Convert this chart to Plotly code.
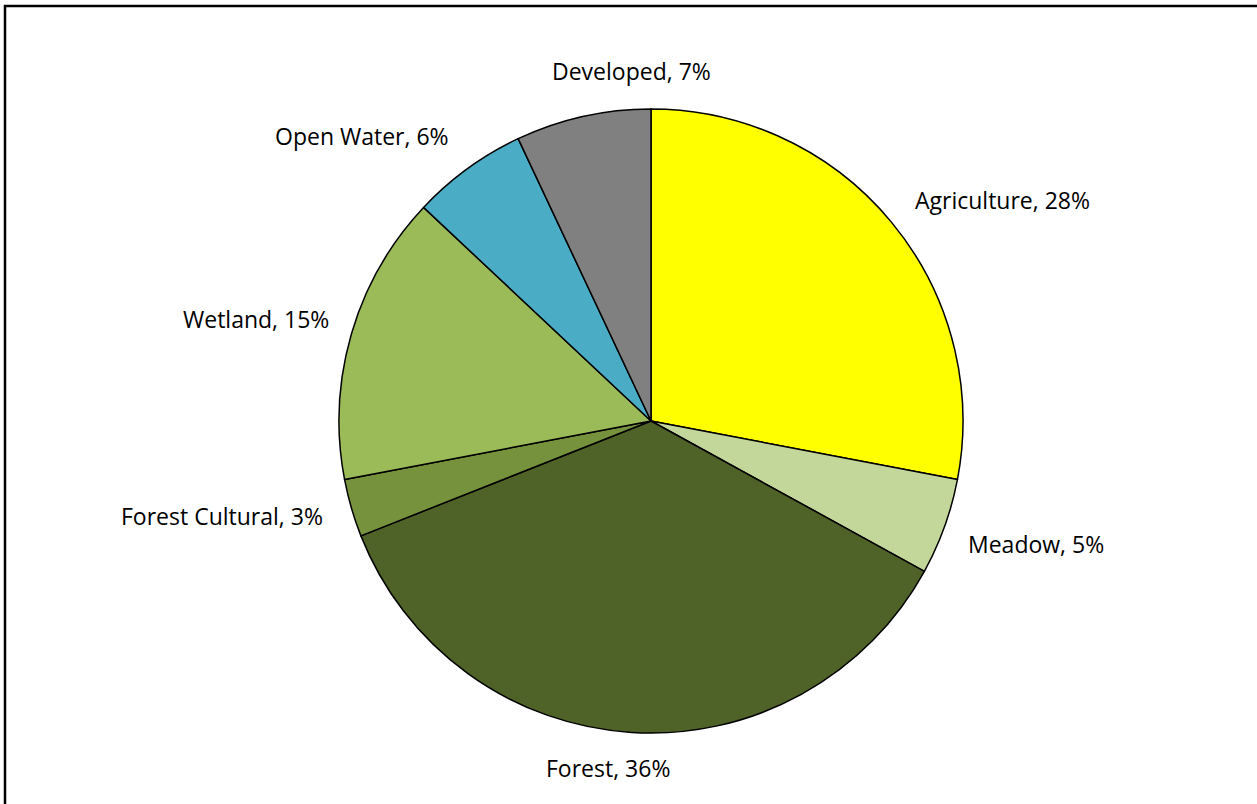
import math
import plotly.graph_objects as go

# Land cover shares (percent), clockwise from 12 o'clock
categories = ["Agriculture", "Meadow", "Forest", "Forest Cultural",
              "Wetland", "Open Water", "Developed"]
shares = [28, 5, 36, 3, 15, 6, 7]
colors = ["#FFFF00", "#C4D79B", "#4F6228", "#76923C",
          "#9BBB59", "#4BACC6", "#808080"]

W, H = 1257, 804
cx, cy, r = 651, 421, 312  # pie centre and radius in pixels
label_r = 340              # radius at which category labels are anchored
label_font = dict(family="Open Sans", size=23, color="black")
# small (dx, dy) pixel nudges for labels that sit off their slice's mid-ray
nudge = {"Developed": (55, 0), "Forest": (-22, -10), "Open Water": (0, -10),
         "Meadow": (-5, 8), "Wetland": (6, -7), "Agriculture": (0, -4)}

fig = go.Figure(go.Pie(
    labels=categories,
    values=shares,
    sort=False,
    direction="clockwise",
    rotation=0,
    marker=dict(colors=colors, line=dict(color="black", width=1.5)),
    textinfo="none",
    hoverinfo="label+percent",
    showlegend=False,
    domain=dict(x=[(cx - r) / W, (cx + r) / W],
                y=[(H - cy - r) / H, (H - cy + r) / H]),
))

# Category labels placed outside each slice along its mid-angle
total = sum(shares)
annotations = []
cum = 0.0
for name, v in zip(categories, shares):
    mid = (cum + v / 2) / total * 2 * math.pi   # clockwise from 12 o'clock
    cum += v
    s, c = math.sin(mid), math.cos(mid)
    dx, dy = nudge.get(name, (0, 0))
    px = cx + label_r * s + dx
    py = cy - label_r * c + dy
    if s > 0.3:
        xa = "left"
    elif s < -0.3:
        xa = "right"
    else:
        xa = "center"
    if xa == "center":
        ya = "bottom" if c > 0 else "top"
    else:
        ya = "middle"
    annotations.append(dict(
        x=px / W, y=1 - py / H, xref="paper", yref="paper",
        text=f"{name}, {round(100 * v / total)}%",
        showarrow=False, xanchor=xa, yanchor=ya, font=label_font,
    ))

fig.update_layout(
    width=W, height=H,
    margin=dict(l=0, r=0, t=0, b=0),
    paper_bgcolor="white",
    annotations=annotations,
    shapes=[dict(type="rect", xref="paper", yref="paper",
                 x0=5 / W, x1=1.01, y0=-0.01, y1=1 - 6 / H,
                 line=dict(color="black", width=2.5))],
)

fig.write_html("out.html")
